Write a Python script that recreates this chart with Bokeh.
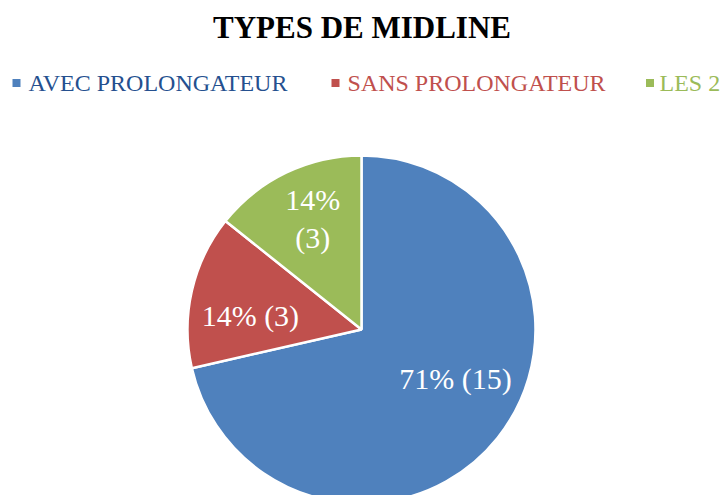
import math
from bokeh.plotting import figure
from bokeh.models import Range1d, ColumnDataSource
from bokeh.core.properties import value
from bokeh.embed import file_html
from bokeh.resources import INLINE

# ---- data ----
title_text = "TYPES DE MIDLINE"
categories = ["AVEC PROLONGATEUR", "SANS PROLONGATEUR", "LES 2"]
counts = [15, 3, 3]
slice_colors = ["#4F81BD", "#C0504D", "#9BBB59"]
legend_text_colors = ["#25508F", "#C0504D", "#9BBB59"]

# ---- layout (pixels) ----
W, H = 724, 495
cx, cy, R = 361, 166, 174
label_radius = [106, 112, 121]
label_angle_shift = [11.0, 5.7, -1.9]  # degrees
legend_marker_x = [16, 335, 649.5]
legend_text_x = [28, 347, 659]
legend_y = 412.5
legend_text_y = 413
SERIF = "Liberation Serif"

total = sum(counts)
fracs = [c / total for c in counts]
starts, ends, mids = [], [], []
a = math.pi / 2
for f in fracs:
    s = a
    e = a - f * 2 * math.pi
    starts.append(s)
    ends.append(e)
    mids.append((s + e) / 2)
    a = e

labels = []
for i, (c, f) in enumerate(zip(counts, fracs)):
    pct = f"{round(f * 100)}%"
    if i == 2:
        labels.append(f"{pct}\n({c})")
    else:
        labels.append(f"{pct} ({c})")

lx = [cx + r * math.cos(m + math.radians(d)) for r, m, d in zip(label_radius, mids, label_angle_shift)]
ly = [cy + r * math.sin(m + math.radians(d)) for r, m, d in zip(label_radius, mids, label_angle_shift)]

p = figure(width=W, height=H, output_backend="svg", toolbar_location=None,
           x_range=Range1d(0, W), y_range=Range1d(0, H), min_border=0)
p.axis.visible = False
p.grid.visible = False
p.outline_line_color = None
p.background_fill_color = "white"
p.border_fill_color = "white"

src = ColumnDataSource(dict(start=starts, end=ends, color=slice_colors))
p.wedge(x=cx, y=cy, radius=R, start_angle="start", end_angle="end",
        direction="clock", fill_color="color", line_color="white", line_width=2.5, source=src)

p.text(x=lx, y=ly, text=labels, text_color="white", text_font=value(SERIF),
       text_font_size="30px", text_align="center", text_baseline="middle",
       text_line_height=1.15)

# title
p.text(x=[361.5], y=[468], text=[title_text], text_color="black", text_font=value(SERIF),
       text_font_size="31px", text_font_style="bold", text_align="center",
       text_baseline="middle")

# legend
p.scatter(x=legend_marker_x, y=[legend_y] * 3, marker="square", size=8,
          fill_color=slice_colors, line_color=None)
p.text(x=legend_text_x, y=[legend_text_y] * 3, text=categories,
       text_color=legend_text_colors, text_font=value(SERIF), text_font_size="24px",
       text_align="left", text_baseline="middle")

open("out.html", "w").write(file_html(p, INLINE))
